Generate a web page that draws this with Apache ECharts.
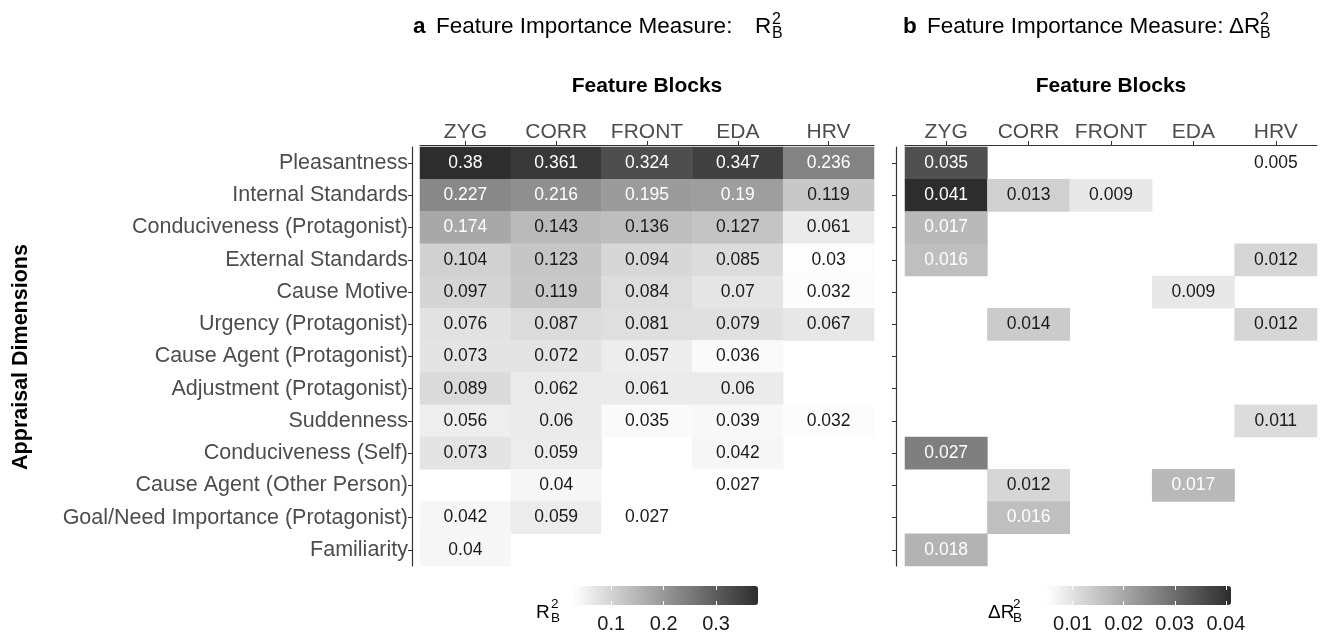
<!DOCTYPE html>
<html>
<head>
<meta charset="utf-8">
<script src="https://cdn.jsdelivr.net/npm/echarts@6/dist/echarts.min.js"></script>
<style>
  html, body { margin: 0; padding: 0; background: #fff; }
  #chart { width: 1325px; height: 638px; }
</style>
</head>
<body>
<div id="chart"></div>
<script>
// appraisal dimensions (rows, top to bottom) and feature blocks (columns)
const dimensions = [
  'Pleasantness', 'Internal Standards', 'Conduciveness (Protagonist)', 'External Standards',
  'Cause Motive', 'Urgency (Protagonist)', 'Cause Agent (Protagonist)', 'Adjustment (Protagonist)',
  'Suddenness', 'Conduciveness (Self)', 'Cause Agent (Other Person)',
  'Goal/Need Importance (Protagonist)', 'Familiarity'
];
const blocks = ['ZYG', 'CORR', 'FRONT', 'EDA', 'HRV'];

// panel a: R2_B per dimension, columns ZYG CORR FRONT EDA HRV (null = empty cell)
const r2Values = [
  [0.38, 0.361, 0.324, 0.347, 0.236],
  [0.227, 0.216, 0.195, 0.19, 0.119],
  [0.174, 0.143, 0.136, 0.127, 0.061],
  [0.104, 0.123, 0.094, 0.085, 0.03],
  [0.097, 0.119, 0.084, 0.07, 0.032],
  [0.076, 0.087, 0.081, 0.079, 0.067],
  [0.073, 0.072, 0.057, 0.036, null],
  [0.089, 0.062, 0.061, 0.06, null],
  [0.056, 0.06, 0.035, 0.039, 0.032],
  [0.073, 0.059, null, 0.042, null],
  [null, 0.04, null, 0.027, null],
  [0.042, 0.059, 0.027, null, null],
  [0.04, null, null, null, null]
];

// panel b: delta R2_B
const deltaValues = [
  [0.035, null, null, null, 0.005],
  [0.041, 0.013, 0.009, null, null],
  [0.017, null, null, null, null],
  [0.016, null, null, null, 0.012],
  [null, null, null, 0.009, null],
  [null, 0.014, null, null, 0.012],
  [null, null, null, null, null],
  [null, null, null, null, null],
  [null, null, null, null, 0.011],
  [0.027, null, null, null, null],
  [null, 0.012, null, 0.017, null],
  [null, 0.016, null, null, null],
  [0.018, null, null, null, null]
];

// colour bar ranges and ticks
const r2Range = [0.027, 0.38];
const r2Ticks = [0.1, 0.2, 0.3];
const deltaRange = [0.005, 0.041];
const deltaTicks = [0.01, 0.02, 0.03, 0.04];

const FONT = '"Liberation Sans", Arial, Helvetica, sans-serif';
const LIGHT = '#ffffff', DARK = '#2d2d2d';

function toCells(rows, whiteAbove) {
  const out = [];
  rows.forEach((row, y) => row.forEach((v, x) => {
    if (v == null) return;
    out.push({ value: [x, y, v], label: { color: v > whiteAbove ? '#ffffff' : '#1a1a1a' } });
  }));
  return out;
}

function panelAxes(grid, showLabels) {
  const x = {
    type: 'category', data: blocks, gridIndex: grid, position: 'top', offset: 2,
    axisLine: { show: true, lineStyle: { color: '#333', width: 1.2 } },
    axisTick: { show: true, alignWithLabel: true, interval: 0, length: 4, lineStyle: { color: '#333', width: 1 } },
    axisLabel: { interval: 0, fontSize: 21, color: '#4d4d4d', margin: 2, fontFamily: FONT },
    splitLine: { show: false }
  };
  const y = {
    type: 'category', data: dimensions, gridIndex: grid, inverse: true, offset: grid === 0 ? 8 : 9,
    axisLine: { show: true, lineStyle: { color: '#333', width: 1.2 } },
    axisTick: { show: true, alignWithLabel: true, interval: 0, length: 4, lineStyle: { color: '#333', width: 1 } },
    axisLabel: { show: showLabels, interval: 0, fontSize: 21.5, color: '#4d4d4d', margin: 4, fontFamily: FONT },
    splitLine: { show: false }
  };
  return [x, y];
}

function legendAxes(grid, range, ticks) {
  const base = {
    type: 'value', gridIndex: grid, min: range[0], max: range[1], z: 10,
    axisLine: { show: false }, splitLine: { show: false },
    axisTick: { show: true, inside: true, length: 4, customValues: ticks, lineStyle: { color: '#fff', width: 1 } }
  };
  return [
    Object.assign({}, base, { position: 'bottom',
      axisLabel: { customValues: ticks, fontSize: 20, color: '#1a1a1a', margin: 9, fontFamily: FONT } }),
    Object.assign({}, base, { position: 'top', axisLabel: { show: false } })
  ];
}

const [xa, ya] = panelAxes(0, true);
const [xb, yb] = panelAxes(1, false);
const [lxa, lxa2] = legendAxes(2, r2Range, r2Ticks);
const [lxb, lxb2] = legendAxes(3, deltaRange, deltaTicks);

function txt(text, x, y, size, opts) {
  return {
    type: 'text', x: x, y: y, silent: true,
    rotation: (opts && opts.rotation) || 0,
    style: Object.assign({
      text: text, fontSize: size, fontFamily: FONT, fill: '#000',
      textAlign: 'left', textVerticalAlign: 'middle'
    }, opts && opts.style)
  };
}

const heatLabel = { show: true, fontSize: 17.5, fontFamily: FONT, formatter: p => String(p.value[2]) };

const option = {
  animation: false,
  textStyle: { fontFamily: FONT },
  grid: [
    { left: 420, top: 147, width: 454, height: 419 },
    { left: 905, top: 147, width: 412, height: 419 },
    { left: 573, top: 586, width: 185, height: 19 },
    { left: 1047, top: 586, width: 184, height: 19 }
  ],
  xAxis: [xa, xb, lxa, lxa2, lxb, lxb2].map((a, i) => Object.assign(a, i >= 2 ? { gridIndex: i < 4 ? 2 : 3 } : {})),
  yAxis: [ya, yb,
    { type: 'value', gridIndex: 2, show: false, min: 0, max: 1 },
    { type: 'value', gridIndex: 3, show: false, min: 0, max: 1 }],
  visualMap: [
    {
      type: 'continuous', seriesIndex: 0, min: r2Range[0], max: r2Range[1],
      inRange: { color: [LIGHT, DARK] }, orient: 'horizontal', calculable: false,
      left: 573, top: 586, itemWidth: 19, itemHeight: 185, padding: 0, hoverLink: false, text: null
    },
    {
      type: 'continuous', seriesIndex: 1, min: deltaRange[0], max: deltaRange[1],
      inRange: { color: [LIGHT, DARK] }, orient: 'horizontal', calculable: false,
      left: 1047, top: 586, itemWidth: 19, itemHeight: 184, padding: 0, hoverLink: false, text: null
    }
  ],
  series: [
    { type: 'heatmap', xAxisIndex: 0, yAxisIndex: 0, data: toCells(r2Values, 0.16),
      label: heatLabel, emphasis: { disabled: true } },
    { type: 'heatmap', xAxisIndex: 1, yAxisIndex: 1, data: toCells(deltaValues, 0.015),
      label: heatLabel, emphasis: { disabled: true } }
  ],
  graphic: [
    // panel titles
    txt('a', 413, 27, 22.5, { style: { fontWeight: 'bold' } }),
    txt('Feature Importance Measure:', 436, 27, 22.5),
    txt('R', 755, 27, 22.5),
    txt('2', 772, 20, 16),
    txt('B', 772, 34, 16),
    txt('b', 903, 27, 22.5, { style: { fontWeight: 'bold' } }),
    txt('Feature Importance Measure:', 927, 27, 22.5),
    txt('\u0394R', 1229, 27, 22.5),
    txt('2', 1260, 20, 16),
    txt('B', 1260, 34, 16),
    // axis titles
    txt('Feature Blocks', 647, 86, 21, { style: { fontWeight: 'bold', textAlign: 'center' } }),
    txt('Feature Blocks', 1111, 86, 21, { style: { fontWeight: 'bold', textAlign: 'center' } }),
    txt('Appraisal Dimensions', 21, 357, 21.5, { rotation: Math.PI / 2, style: { fontWeight: 'bold', textAlign: 'center' } }),
    // colour bar titles
    txt('R', 536, 613, 19),
    txt('2', 551, 604, 13.5),
    txt('B', 551, 618, 13.5),
    txt('\u0394R', 988, 613, 19),
    txt('2', 1013, 604, 13.5),
    txt('B', 1013, 618, 13.5)
  ]
};

const chart = echarts.init(document.getElementById('chart'), null, { renderer: 'canvas' });
chart.setOption(option);
</script>
</body>
</html>
